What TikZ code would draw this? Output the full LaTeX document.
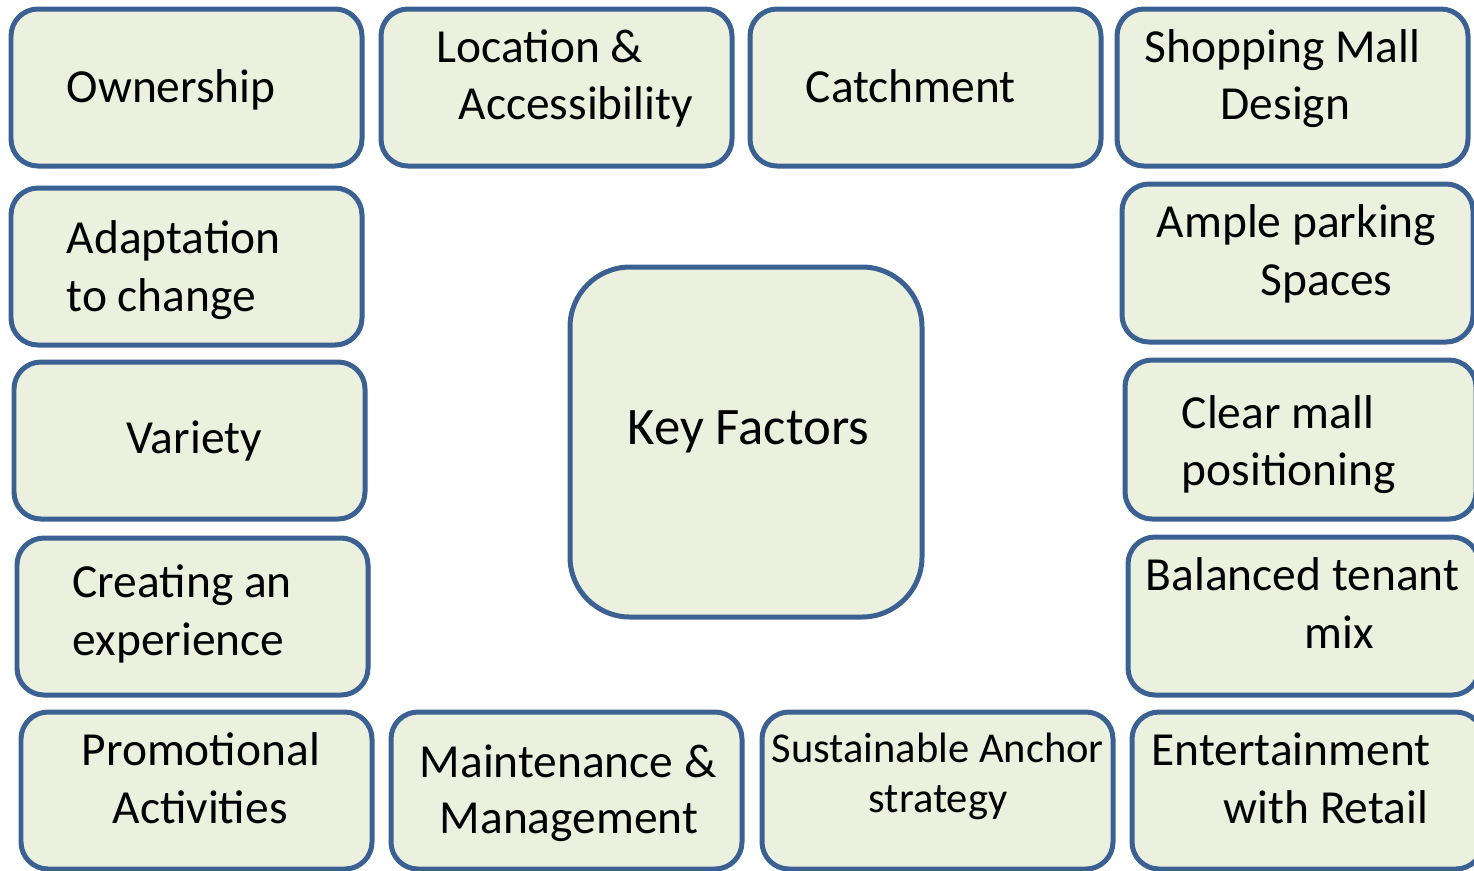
\documentclass[tikz,border=0pt]{standalone}
\usepackage{fontspec}
\setmainfont{Carlito}
\definecolor{F}{RGB}{235, 241, 222}
\definecolor{E}{RGB}{59, 96, 146}
\tikzset{
  box/.style={draw=E, fill=F, line width=1.42pt, rounded corners=2.7mm},
  txt/.style={anchor=base west, inner sep=0pt, font=\fontsize{13.5pt}{16pt}\selectfont},
}

\begin{document}
\begin{tikzpicture}[x=0.1mm, y=-0.1mm]
  \useasboundingbox (0,0) rectangle (1474,870);
  \clip (0,0) rectangle (1474,870);
  % top row
  \draw[box] (11,9) rectangle ++(351,157);
  \draw[box] (381,9) rectangle ++(351,157);
  \draw[box] (750,9) rectangle ++(351,157);
  \draw[box] (1117,9) rectangle ++(351,157);
  % left column
  \draw[box] (11,188) rectangle ++(351,157);
  \draw[box] (14,362) rectangle ++(351,157);
  \draw[box] (17,538) rectangle ++(351,157);
  % bottom row
  \draw[box] (21,712) rectangle ++(351,157);
  \draw[box] (391,712) rectangle ++(351,157);
  \draw[box] (762,712) rectangle ++(351,157);
  \draw[box] (1132,712) rectangle ++(351,157);
  % right column
  \draw[box] (1122,184) rectangle ++(351,158);
  \draw[box] (1125,360) rectangle ++(351,159);
  \draw[box] (1128,537) rectangle ++(351,158);
  % centre
  \draw[box, rounded corners=6mm] (570,267) rectangle (922,617);

  \node[txt] (own) at (66,102) {Ownership};
  \node[txt] (loc) at (436,62) {Location \&};
  \node[txt] (acc) at (458,119) {Accessibility};
  \node[txt] (catch) at (805,102) {Catchment};
  \node[txt] (shop) at (1144,62) {Shopping Mall};
  \node[txt] (design) at (1220,119) {Design};
  \node[txt] (adapt) at (66,253) {Adaptation};
  \node[txt] (change) at (66,311) {to change};
  \node[txt] (variety) at (126,453) {Variety};
  \node[txt] (create) at (72,597) {Creating an};
  \node[txt] (exp) at (72,655) {experience};
  \node[txt] (promo) at (81,765) {Promotional};
  \node[txt] (activ) at (112,823) {Activities};
  \node[txt] (maint) at (419,777) {Maintenance \&};
  \node[txt] (manage) at (439,833) {Management};
  \node[txt, font=\fontsize{12.1pt}{14pt}\selectfont] (anchor) at (771,762) {Sustainable Anchor};
  \node[txt, font=\fontsize{12.1pt}{14pt}\selectfont] (strat) at (868,812) {strategy};
  \node[txt] (enter) at (1151,765) {Entertainment};
  \node[txt] (retail) at (1223,823) {with Retail};
  \node[txt] (ample) at (1156,237) {Ample parking};
  \node[txt] (spaces) at (1260,295) {Spaces};
  \node[txt] (clear) at (1181,428) {Clear mall};
  \node[txt] (posit) at (1181,485) {positioning};
  \node[txt] (balance) at (1145,590) {Balanced tenant};
  \node[txt] (mix) at (1304,648) {mix};
  \node[txt, font=\fontsize{15pt}{18pt}\selectfont] (key) at (627,444) {Key Factors};
\end{tikzpicture}
\end{document}
